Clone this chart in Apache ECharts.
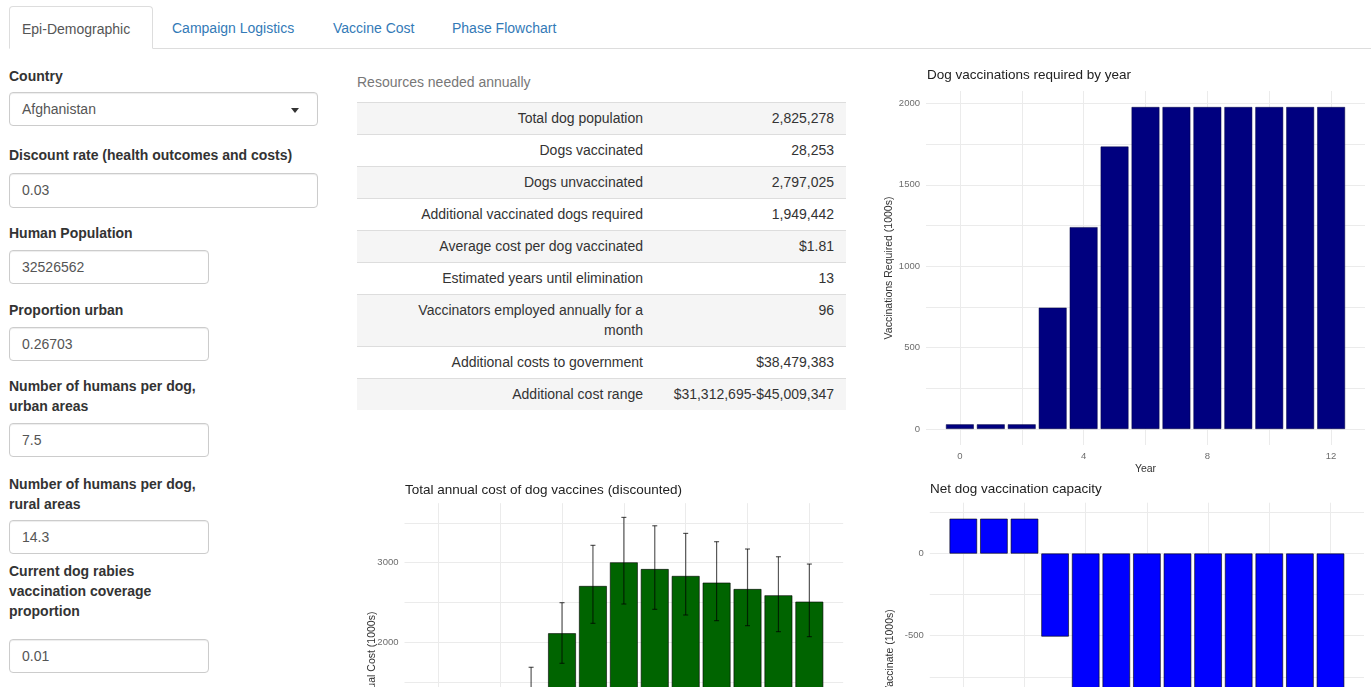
<!DOCTYPE html>
<html>
<head>
<meta charset="utf-8">
<script src="https://cdn.jsdelivr.net/npm/echarts@6/dist/echarts.min.js"></script>
<style>
  html, body { margin: 0; padding: 0; width: 1371px; height: 687px; overflow: hidden; background: #fff;
    font-family: "Liberation Sans", Arial, Helvetica, sans-serif; font-size: 14px; color: #333; }
  .nav { position: absolute; left: 9px; right: 0; top: 6px; height: 42px; border-bottom: 1px solid #ddd; }
  .nav span { position: absolute; top: 0; height: 42px; line-height: 44px; color: #337ab7; white-space: nowrap; }
  .nav span.active { color: #555; background: #fff; border: 1px solid #ddd; border-bottom-color: #fff;
    border-radius: 4px 4px 0 0; box-sizing: border-box; height: 43px; padding-left: 12px; }
  .lbl { position: absolute; left: 9px; font-weight: bold; line-height: 20px; color: #333; white-space: nowrap; }
  .box { position: absolute; left: 9px; height: 34px; box-sizing: border-box; border: 1px solid #ccc;
    border-radius: 4px; box-shadow: inset 0 1px 1px rgba(0,0,0,.075); color: #555; line-height: 32px;
    padding-left: 12px; background: #fff; }
  .caret { position: absolute; left: 291px; top: 108px; width: 0; height: 0;
    border-left: 4px solid transparent; border-right: 4px solid transparent; border-top: 5px solid #333; }
  .caption { position: absolute; left: 357px; top: 72px; line-height: 20px; color: #777; }
  table { position: absolute; left: 357px; top: 102px; width: 489px; border-collapse: collapse; table-layout: fixed; }
  td { padding: 5px 12px 6px 8px; line-height: 20px; border-top: 1px solid #ddd; text-align: right; vertical-align: top; color: #333; }
  td.l { padding-right: 8px; }
  tr:nth-child(odd) td { background: #f5f5f5; }
  td.l div { display: inline-block; max-width: 240px; }
  .chart { position: absolute; }
</style>
</head>
<body>
<div class="nav">
  <span class="active" style="left:0;width:144px;">Epi-Demographic</span>
  <span style="left:163px;">Campaign Logistics</span>
  <span style="left:324px;">Vaccine Cost</span>
  <span style="left:443px;">Phase Flowchart</span>
</div>

<div class="lbl" style="top:66px;">Country</div>
<div class="box" style="top:92px;width:309px;">Afghanistan</div>
<div class="caret"></div>
<div class="lbl" style="top:145px;">Discount rate (health outcomes and costs)</div>
<div class="box" style="top:173px;width:309px;height:35px;">0.03</div>
<div class="lbl" style="top:223px;">Human Population</div>
<div class="box" style="top:250px;width:200px;">32526562</div>
<div class="lbl" style="top:300px;">Proportion urban</div>
<div class="box" style="top:327px;width:200px;">0.26703</div>
<div class="lbl" style="top:376px;">Number of humans per dog,<br>urban areas</div>
<div class="box" style="top:423px;width:200px;">7.5</div>
<div class="lbl" style="top:474px;">Number of humans per dog,<br>rural areas</div>
<div class="box" style="top:520px;width:200px;">14.3</div>
<div class="lbl" style="top:561px;">Current dog rabies<br>vaccination coverage<br>proportion</div>
<div class="box" style="top:639px;width:200px;">0.01</div>

<div class="caption">Resources needed annually</div>
<table id="res"><colgroup><col style="width:294px"><col style="width:195px"></colgroup><tbody></tbody></table>

<div id="chartReq" class="chart" style="left:870px;top:60px;width:501px;height:420px;"></div>
<div id="chartCost" class="chart" style="left:350px;top:470px;width:500px;height:420px;"></div>
<div id="chartNet" class="chart" style="left:870px;top:470px;width:501px;height:420px;"></div>

<script>
  // table
  const tableLabels = ['Total dog population', 'Dogs vaccinated', 'Dogs unvaccinated',
    'Additional vaccinated dogs required', 'Average cost per dog vaccinated',
    'Estimated years until elimination', 'Vaccinators employed annually for a month',
    'Additional costs to government', 'Additional cost range']
  const tableValues = ['2,825,278', '28,253', '2,797,025', '1,949,442', '$1.81', '13', '96',
    '$38,479,383', '$31,312,695-$45,009,347']

  // charts
  const years = [0, 1, 2, 3, 4, 5, 6, 7, 8, 9, 10, 11, 12]
  const vaccRequired = [28, 28, 28, 745, 1240, 1735, 1978, 1978, 1978, 1978, 1978, 1978, 1978]
  const costMean = [51, 50, 48, 1430, 2113, 2707, 3004, 2920, 2833, 2749, 2669, 2590, 2510]
  const costLow = [42, 41, 40, 1170, 1736, 2238, 2481, 2414, 2343, 2272, 2209, 2134, 2071]
  const costHigh = [60, 59, 57, 1686, 2498, 3218, 3569, 3464, 3368, 3264, 3172, 3075, 2983]
  const netCapacity = [212, 212, 212, -505, -999, -1495, -1737, -1737, -1737, -1737, -1737, -1737, -1737]

  const yearTicks = [0, 4, 8, 12]
  const yearGrid = [0, 2, 4, 6, 8, 10, 12]
  const reqTicks = [0, 500, 1000, 1500, 2000]
  const reqGrid = [0, 250, 500, 750, 1000, 1250, 1500, 1750, 2000]
  const costTicks = [0, 1000, 2000, 3000]
  const costGrid = [0, 500, 1000, 1500, 2000, 2500, 3000, 3500]
  const netTicks = [-1500, -1000, -500, 0]
  const netGrid = [-1750, -1500, -1250, -1000, -750, -500, -250, 0, 250]

  const tbody = document.querySelector('#res tbody')
  tableLabels.forEach((l, i) => {
    const tr = document.createElement('tr')
    tr.innerHTML = '<td class="l"><div>' + l + '</div></td><td>' + tableValues[i] + '</td>'
    tbody.appendChild(tr)
  })

  const FONT = 'Liberation Sans, Arial, sans-serif'
  const plain = v => String(v)

  function xAxisOpt () {
    return {
      type: 'value', min: -1.095, max: 13.095,
      axisLine: { show: false },
      axisTick: { show: false, customValues: yearGrid },
      axisLabel: { customValues: yearTicks, formatter: plain, fontSize: 9.5, color: '#6d6d6d', margin: 6, fontFamily: FONT },
      splitLine: { show: true, lineStyle: { color: '#ebebeb', width: 1 } },
      name: 'Year', nameLocation: 'middle', nameGap: 19, nameMoveOverlap: false,
      nameTextStyle: { fontSize: 10.5, color: '#333', fontFamily: FONT }
    }
  }

  function yAxisOpt (min, max, labels, grid, name, gap) {
    return {
      type: 'value', min: min, max: max,
      axisLine: { show: false },
      axisTick: { show: false, customValues: grid },
      axisLabel: { customValues: labels, formatter: plain, fontSize: 9.5, color: '#6d6d6d', margin: 6, fontFamily: FONT },
      splitLine: { show: true, lineStyle: { color: '#ebebeb', width: 1 } },
      name: name, nameLocation: 'middle', nameGap: gap, nameMoveOverlap: false,
      nameTextStyle: { fontSize: 10.5, color: '#333', fontFamily: FONT }
    }
  }

  function titleOpt (text, left, top) {
    return { text: text, left: left, top: top, padding: 0,
      textStyle: { fontSize: 13.5, fontWeight: 'normal', color: '#222', fontFamily: FONT } }
  }

  // Dog vaccinations required by year
  const chartReq = echarts.init(document.getElementById('chartReq'))
  chartReq.setOption({
    animation: false,
    title: titleOpt('Dog vaccinations required by year', 57, 8),
    grid: { left: 56, right: 6, top: 31, bottom: 34 },
    xAxis: xAxisOpt(),
    yAxis: yAxisOpt(-98.9, 2076.6, reqTicks, reqGrid, 'Vaccinations Required (1000s)', 31),
    series: [{
      type: 'bar', barWidth: 27.8,
      data: years.map((y, i) => [y, vaccRequired[i]]),
      itemStyle: { color: '#00007f', borderColor: '#000040', borderWidth: 0.5 }
    }]
  })

  // Total annual cost of dog vaccines
  const chartCost = echarts.init(document.getElementById('chartCost'))
  chartCost.setOption({
    animation: false,
    title: titleOpt('Total annual cost of dog vaccines (discounted)', 55, 13),
    grid: { left: 54.5, right: 6.8, top: 33.2, bottom: 74.3 },
    xAxis: xAxisOpt(),
    yAxis: yAxisOpt(-178.5, 3747.5, costTicks, costGrid, 'Annual Cost (1000s)', 27),
    series: [{
      type: 'bar', barWidth: 27.8,
      data: years.map((y, i) => [y, costMean[i]]),
      itemStyle: { color: '#006400', borderColor: '#000', borderWidth: 0.6 }
    }, {
      type: 'custom',
      data: years.map((y, i) => [y, costLow[i], costHigh[i]]),
      renderItem: function (params, api) {
        const lo = api.coord([api.value(0), api.value(1)])
        const hi = api.coord([api.value(0), api.value(2)])
        const st = { stroke: 'rgba(0,0,0,0.65)', lineWidth: 1.2 }
        return {
          type: 'group',
          children: [
            { type: 'line', shape: { x1: lo[0], y1: lo[1], x2: hi[0], y2: hi[1] }, style: st },
            { type: 'line', shape: { x1: lo[0] - 2.5, y1: lo[1], x2: lo[0] + 2.5, y2: lo[1] }, style: st },
            { type: 'line', shape: { x1: hi[0] - 2.5, y1: hi[1], x2: hi[0] + 2.5, y2: hi[1] }, style: st }
          ]
        }
      },
      z: 5
    }]
  })

  // Net dog vaccination capacity
  const chartNet = echarts.init(document.getElementById('chartNet'))
  chartNet.setOption({
    animation: false,
    title: titleOpt('Net dog vaccination capacity', 60, 12),
    grid: { left: 59.8, right: 7, top: 32.7, bottom: 29.7 },
    xAxis: xAxisOpt(),
    yAxis: yAxisOpt(-1834.5, 309.5, netTicks, netGrid, 'Capacity to Vaccinate (1000s)', 34.5),
    series: [{
      type: 'bar', barWidth: 27.5,
      data: years.map((y, i) => [y, netCapacity[i]]),
      itemStyle: { color: '#0000ff', borderColor: '#000', borderWidth: 0.6 }
    }]
  })
</script>
</body>
</html>
